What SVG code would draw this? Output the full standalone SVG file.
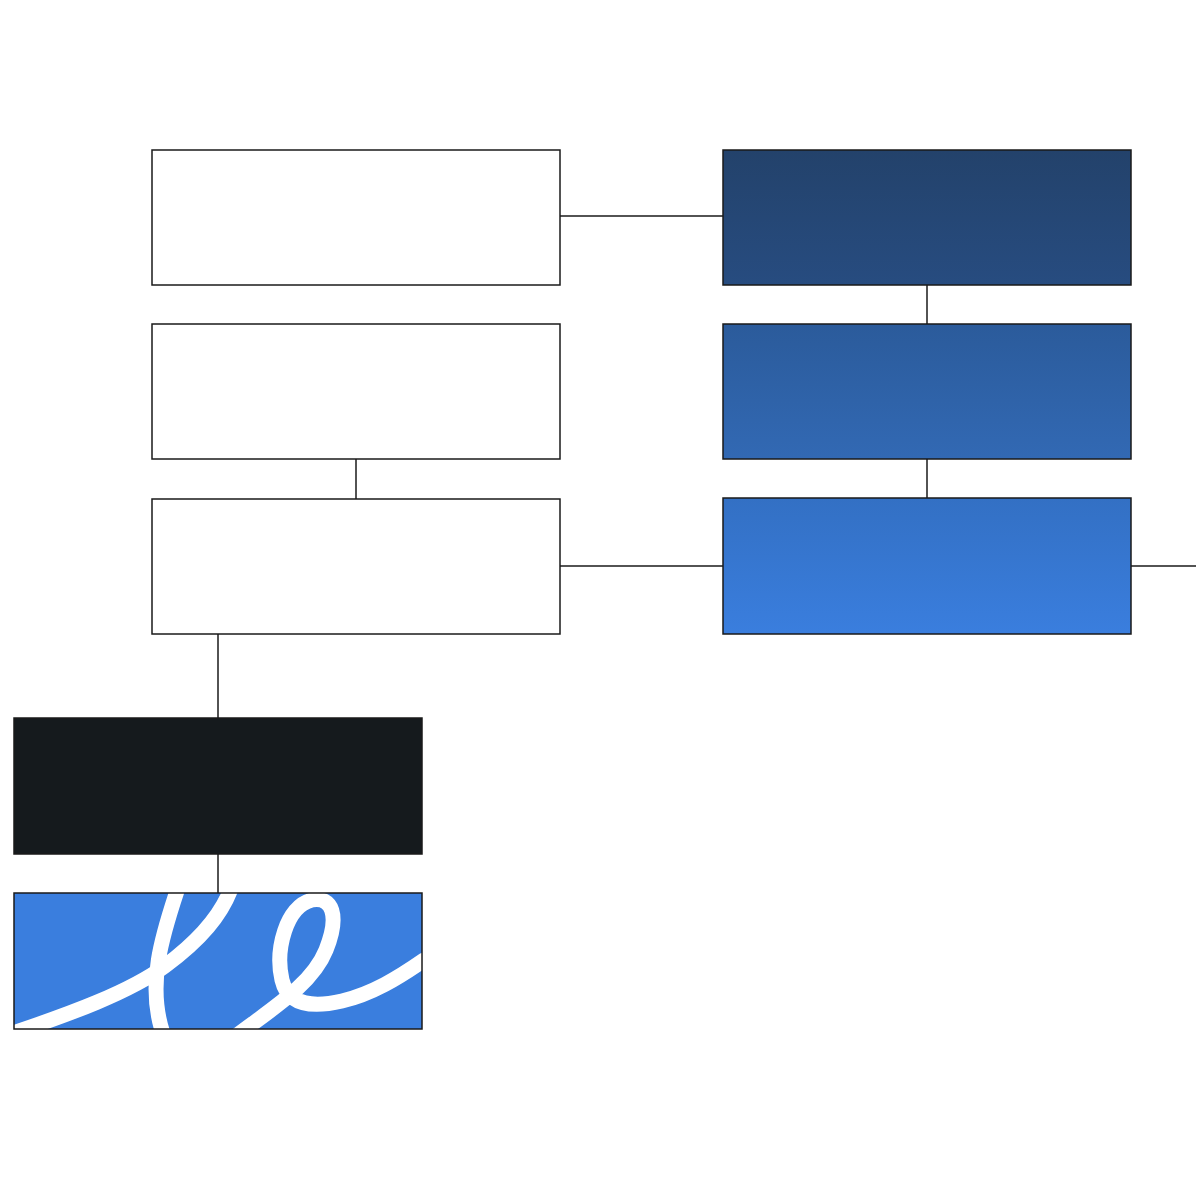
<svg xmlns="http://www.w3.org/2000/svg" width="1200" height="1200" viewBox="0 0 1200 1200">
  <defs>
    <linearGradient id="blueGrad" gradientUnits="userSpaceOnUse" x1="0" y1="150" x2="0" y2="634">
      <stop offset="0" stop-color="#23426b"/>
      <stop offset="0.28" stop-color="#274c80"/>
      <stop offset="0.36" stop-color="#2b5b9b"/>
      <stop offset="0.64" stop-color="#3269b4"/>
      <stop offset="0.72" stop-color="#3370c4"/>
      <stop offset="1" stop-color="#3a7ede"/>
    </linearGradient>
    <clipPath id="clipBlue">
      <rect x="14" y="893" width="408" height="136"/>
    </clipPath>
    <style>
      .box { stroke: #1a1a1a; stroke-width: 1.5; }
      .white { fill: #ffffff; }
      .grad { fill: url(#blueGrad); }
      .conn { stroke: #1a1a1a; stroke-width: 1.5; fill: none; }
      .squiggle { stroke: #ffffff; fill: none; stroke-width: 15; stroke-linecap: round; stroke-linejoin: round; }
    </style>
  </defs>
  <rect width="1200" height="1200" fill="#ffffff"/>

  <g id="connectors">
    <line class="conn" x1="560" y1="216" x2="723" y2="216"/>
    <line class="conn" x1="356" y1="459" x2="356" y2="499"/>
    <line class="conn" x1="560" y1="566" x2="723" y2="566"/>
    <line class="conn" x1="1131" y1="566" x2="1196" y2="566"/>
    <line class="conn" x1="927" y1="285" x2="927" y2="324"/>
    <line class="conn" x1="927" y1="459" x2="927" y2="498"/>
    <line class="conn" x1="218" y1="634" x2="218" y2="718"/>
    <line class="conn" x1="218" y1="854" x2="218" y2="893"/>
  </g>

  <g id="node-left-1"><rect class="box white" x="152" y="150" width="408" height="135"/></g>
  <g id="node-left-2"><rect class="box white" x="152" y="324" width="408" height="135"/></g>
  <g id="node-left-3"><rect class="box white" x="152" y="499" width="408" height="135"/></g>

  <g id="node-right-1"><rect class="box grad" x="723" y="150" width="408" height="135"/></g>
  <g id="node-right-2"><rect class="box grad" x="723" y="324" width="408" height="135"/></g>
  <g id="node-right-3"><rect class="box grad" x="723" y="498" width="408" height="136"/></g>

  <g id="node-black"><rect class="box" fill="#151a1d" x="14" y="718" width="408" height="136"/></g>

  <g id="node-blue">
    <rect x="14" y="893" width="408" height="136" fill="#3a7ede"/>
    <g clip-path="url(#clipBlue)">
      <path class="squiggle" d="M 10 1034 C 70 1014, 130 992, 165 966 C 200 940, 222 915, 232 886 C 240 866, 186 866, 178 888 C 164 930, 145 985, 164 1036"/>
      <path class="squiggle" d="M 236 1036 C 270 1010, 312 985, 326 950 C 340 915, 332 896, 312 900 C 286 906, 275 950, 282 980 C 288 1005, 312 1008, 342 1001 C 372 994, 398 978, 424 960"/>
    </g>
    <rect class="box" fill="none" x="14" y="893" width="408" height="136"/>
  </g>
</svg>
